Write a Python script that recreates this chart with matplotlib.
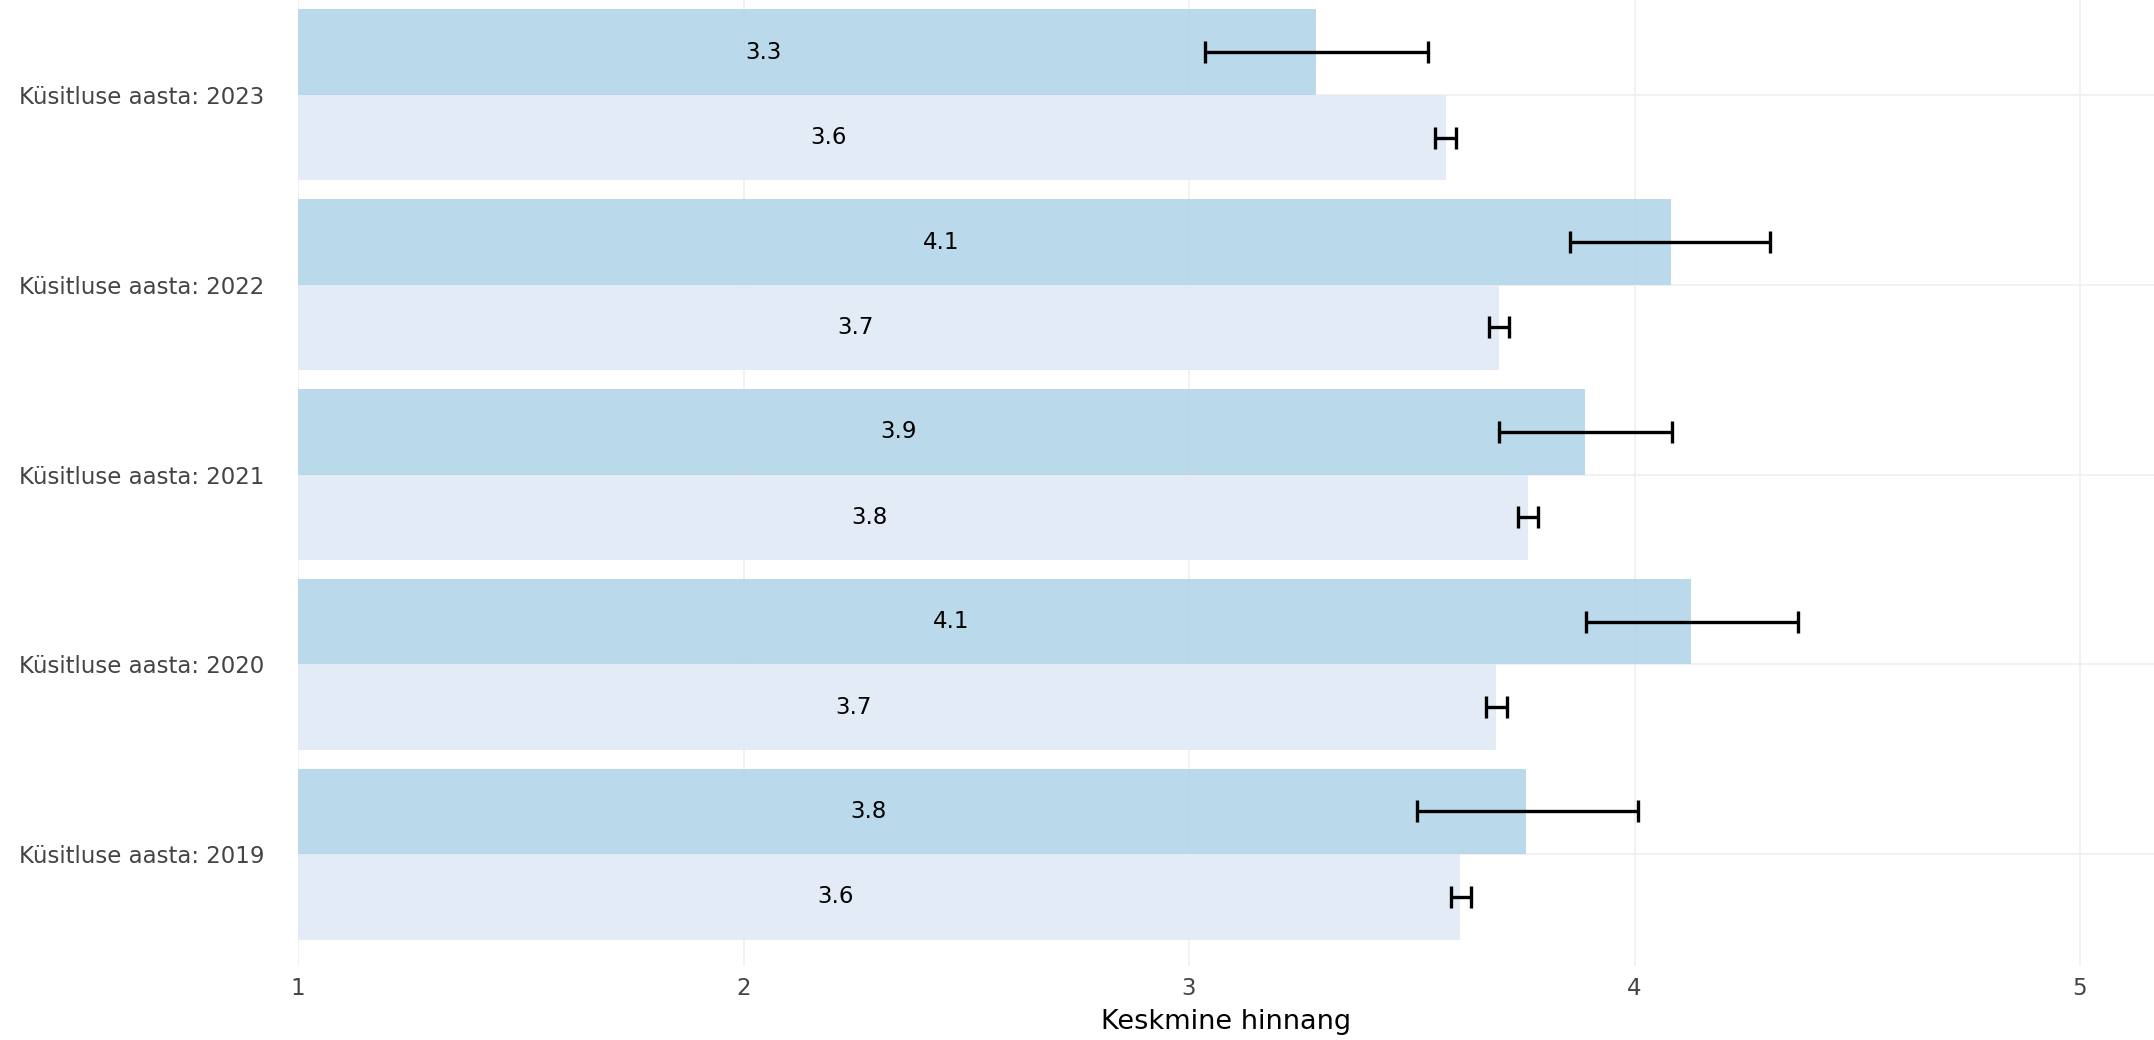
import numpy as np
import matplotlib
matplotlib.use("Agg")
import matplotlib.pyplot as plt

# andmed (loetud pildilt)
years = ["2019", "2020", "2021", "2022", "2023"]
mean_a = [3.756, 4.127, 3.889, 4.081, 3.284]
lo_a = [3.512, 3.892, 3.695, 3.855, 3.036]
hi_a = [4.007, 4.368, 4.084, 4.304, 3.537]
mean_b = [3.608, 3.688, 3.760, 3.695, 3.577]
lo_b = [3.587, 3.667, 3.738, 3.673, 3.552]
hi_b = [3.633, 3.713, 3.784, 3.719, 3.599]
labels_a = ["3.8", "4.1", "3.9", "4.1", "3.3"]
labels_b = ["3.6", "3.7", "3.8", "3.7", "3.6"]

plt.rcParams['font.family'] = ['DejaVu Sans']

fig = plt.figure(figsize=(21.54, 10.4), dpi=100)
ax = fig.add_axes([298 / 2154, 0.071, 1 - 298 / 2154, 0.929])

y = np.arange(len(years))
h = 0.45
base = 1.0

a = np.array(mean_a)
b = np.array(mean_b)
ax.barh(y + h / 2, a - base, left=base, height=h, color="#b3d5e8", alpha=0.9, zorder=2)
ax.barh(y - h / 2, b - base, left=base, height=h, color="#e0eaf6", alpha=0.9, zorder=2)

# veapiirid
err_a = [a - np.array(lo_a), np.array(hi_a) - a]
err_b = [b - np.array(lo_b), np.array(hi_b) - b]
ax.errorbar(a, y + h / 2, xerr=err_a, fmt="none", ecolor="black", elinewidth=2.4,
            capsize=8, capthick=2.4, zorder=4)
ax.errorbar(b, y - h / 2, xerr=err_b, fmt="none", ecolor="black", elinewidth=2.4,
            capsize=8, capthick=2.4, zorder=4)

# tekstid ribade sees
for i in range(len(years)):
    ax.annotate(labels_a[i], ((base + a[i]) / 2, y[i] + h / 2), xytext=(-31, 0),
                textcoords="offset points", ha="center", va="center", fontsize=16.5, zorder=5)
    ax.annotate(labels_b[i], ((base + b[i]) / 2, y[i] - h / 2), xytext=(-31, 0),
                textcoords="offset points", ha="center", va="center", fontsize=16.5, zorder=5)

ax.set_xlim(1, 1 + 1856 / 445.5)
ax.set_ylim(-0.59, 4.5)
ax.set_xticks([1, 2, 3, 4, 5])
ax.set_yticks(y)
ax.set_yticklabels(["Küsitluse aasta: " + s for s in years])
ax.tick_params(axis="both", length=0, labelsize=16.5, labelcolor="#444444")
ax.tick_params(axis="x", pad=8)
ax.tick_params(axis="y", pad=24)
ax.grid(True, color="#efefef", linewidth=1.2, zorder=0)
ax.set_axisbelow(True)
for s in ax.spines.values():
    s.set_visible(False)
ax.set_xlabel("Keskmine hinnang", fontsize=19.5, labelpad=6)

fig.savefig("out.png", dpi=100)
